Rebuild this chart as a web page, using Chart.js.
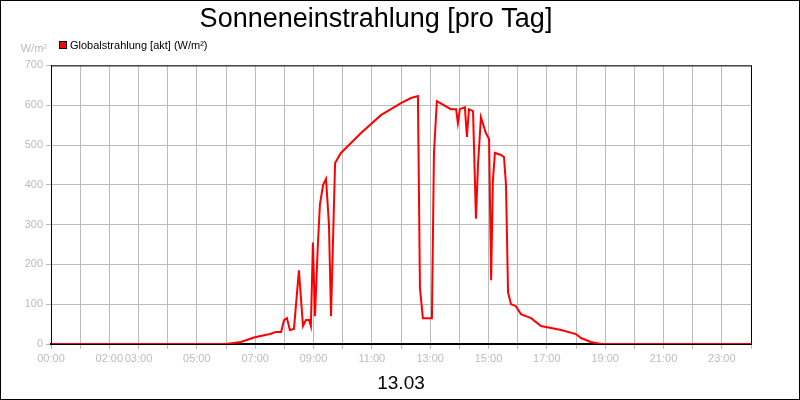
<!DOCTYPE html><html><head><script src="https://cdn.jsdelivr.net/npm/chart.js@4"></script>
<style>body{margin:0}#w{width:798px;height:398px;border:1px solid #000;position:relative}</style></head><body><div id="w"><canvas id="c"></canvas></div>
<script>
const hours=[0,6.0,6.51,6.99,7.51,7.71,7.89,7.99,8.09,8.19,8.33,8.50,8.64,8.74,8.85,8.91,8.98,9.05,9.15,9.22,9.33,9.43,9.53,9.60,9.74,9.94,10.63,11.31,12.0,12.34,12.58,12.65,12.75,13.06,13.13,13.23,13.71,13.89,13.95,14.02,14.19,14.26,14.33,14.47,14.57,14.64,14.74,14.91,15.02,15.09,15.15,15.22,15.43,15.53,15.60,15.67,15.77,15.94,16.11,16.46,16.8,17.49,18.0,18.17,18.51,18.86,24];
const values=[0,0,5,17,25,30,30,60,65,35,38,185,45,60,60,45,255,70,250,350,400,415,300,70,455,480,530,575,605,618,623,140,65,65,480,610,590,590,555,590,595,520,590,585,315,450,570,530,515,160,410,480,475,470,400,130,100,95,75,65,45,35,25,15,5,0,0];
const tickLabels={0:'00:00',2:'02:00',3:'03:00',5:'05:00',7:'07:00',9:'09:00',11:'11:00',13:'13:00',15:'15:00',17:'17:00',19:'19:00',21:'21:00',23:'23:00'};
const seriesName='Globalstrahlung [akt] (W/m²)';
const F='"Liberation Sans", Arial, sans-serif';
const deco={id:'deco',afterDraw(ch){const c=ch.ctx,a=ch.chartArea;c.save();
c.strokeStyle='#000';c.lineWidth=1;c.strokeRect(a.left+0.5,a.top+0.5,a.right-a.left,a.bottom-a.top);
c.font='11px '+F;c.fillStyle='#bbb';c.textAlign='right';c.textBaseline='alphabetic';c.fillText('W/m²',46,51);
c.fillStyle='#ff0000';c.fillRect(58,40,8,8);c.strokeStyle='#000';c.strokeRect(58.5,40.5,7,7);
c.fillStyle='#000';c.textAlign='left';c.fillText(seriesName,69,48);c.restore();}};
new Chart(document.getElementById('c'),{type:'line',data:{datasets:[{label:seriesName,data:hours.map((h,i)=>({x:h,y:values[i]})),borderColor:'#ff0000',backgroundColor:'#ff0000',borderWidth:2,pointRadius:0,tension:0}]},
options:{responsive:true,maintainAspectRatio:false,animation:false,layout:{padding:{left:0,right:48,top:0,bottom:4}},
plugins:{title:{display:true,text:'Sonneneinstrahlung [pro Tag]',color:'#000',font:{family:F,size:27,weight:'normal'},padding:{top:2,bottom:30}},
legend:{display:false},tooltip:{enabled:false}},
scales:{x:{type:'linear',min:0,max:24,border:{color:'#000',width:2},grid:{color:'#bbb',drawTicks:true,tickLength:5},ticks:{stepSize:1,autoSkip:false,maxRotation:0,color:'#bbb',font:{family:F,size:11},callback:v=>tickLabels[v]||''},title:{display:true,text:'13.03',color:'#000',font:{family:F,size:19},padding:{top:4,bottom:0}}},
y:{min:0,max:700,afterFit(s){s.width=50},border:{color:'#000',width:1},grid:{color:'#bbb',tickLength:5},ticks:{stepSize:100,color:'#bbb',font:{family:F,size:11}}}}},plugins:[deco]});
</script></body></html>
